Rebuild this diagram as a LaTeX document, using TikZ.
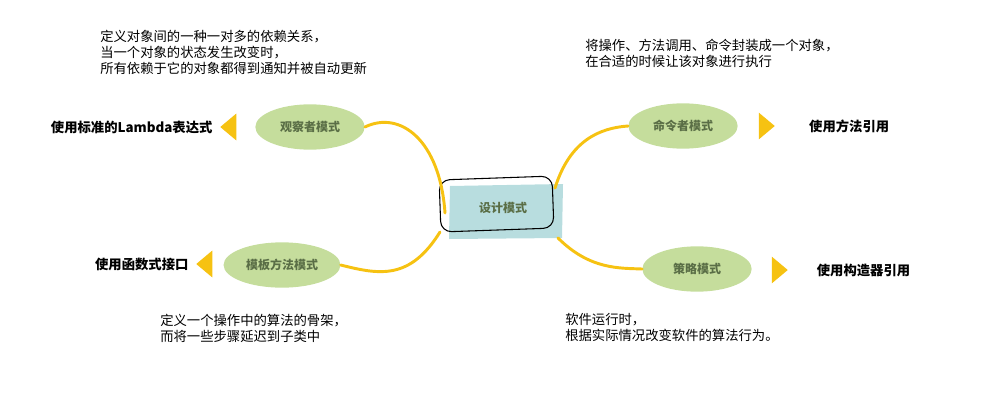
\documentclass[tikz,border=0pt]{standalone}
\usepackage{fontspec}
\setmainfont{Noto Sans CJK SC}
\usetikzlibrary{shapes.geometric, positioning}
\definecolor{leafcolor}{RGB}{197,221,156}
\definecolor{corecolor}{RGB}{184,221,223}
\definecolor{branchcolor}{RGB}{246,194,18}
\definecolor{labelcolor}{RGB}{90,110,70}

\begin{document}
\begin{tikzpicture}[
    x=0.75pt, y=-0.75pt,
    leaf/.style={ellipse, fill=leafcolor, minimum width=82pt, minimum height=34pt, inner sep=1pt, font=\small\bfseries, text=labelcolor, align=center},
    branch/.style={branchcolor, line width=2.2pt, line cap=round},
    tip/.style={isosceles triangle, fill=branchcolor, minimum width=14pt, minimum height=12pt, inner sep=0pt, isosceles triangle apex angle=80},
    use/.style={font=\normalsize\bfseries},
    note/.style={font=\normalsize, align=left, anchor=north west, inner sep=0pt, text depth=0pt}
]
    \useasboundingbox (0,0) rectangle (987,414);

    % Center
    \fill[corecolor] (450,186) -- (563,184) -- (562,238) -- (449,239) -- cycle;
    \draw[thick, rounded corners=8pt, rotate around={2:(497,204)}] (440,178) rectangle (553,230);
    \node[font=\small\bfseries, text=labelcolor] (core) at (503,208) {设计模式};

    % Leaves
    \node[leaf] (observer) at (310,127) {观察者模式};
    \node[leaf] (command) at (683,126) {命令者模式};
    \node[leaf, text width=60pt] (template) at (282,265) {模板方法模式};
    \node[leaf] (strategy) at (697,269) {策略模式};

    % Branches
    \draw[branch] (445,213) .. controls (440,140) and (400,110) .. (observer.east);
    \draw[branch] (555,188) .. controls (570,140) and (600,128) .. (command.west);
    \draw[branch] (440,232) .. controls (410,280) and (380,275) .. (template.east);
    \draw[branch] (558,238) .. controls (590,270) and (620,268) .. (strategy.west);

    % Tips
    \node[tip, shape border rotate=180] (tipobs) at (230,127) {};
    \node[tip] (tipcmd) at (765,126) {};
    \node[tip, shape border rotate=180] (tiptpl) at (206,264) {};
    \node[tip] (tipstr) at (778,270) {};

    % Uses
    \node[use, left=2pt of tipobs] {使用标准的Lambda表达式};
    \node[use, right=22pt of tipcmd] {使用方法引用};
    \node[use, left=2pt of tiptpl] {使用函数式接口};
    \node[use, right=18pt of tipstr] {使用构造器引用};

    % Notes
    \node[note] (noteobs) at (100,30) {定义对象间的一种一对多的依赖关系，\\当一个对象的状态发生改变时，\\所有依赖于它的对象都得到通知并被自动更新};
    \node[note] (notecmd) at (585,39) {将操作、方法调用、命令封装成一个对象，\\在合适的时候让该对象进行执行};
    \node[note] (notetpl) at (160,314) {定义一个操作中的算法的骨架，\\而将一些步骤延迟到子类中};
    \node[note] (notestr) at (565,313) {软件运行时，\\根据实际情况改变软件的算法行为。};
\end{tikzpicture}
\end{document}
